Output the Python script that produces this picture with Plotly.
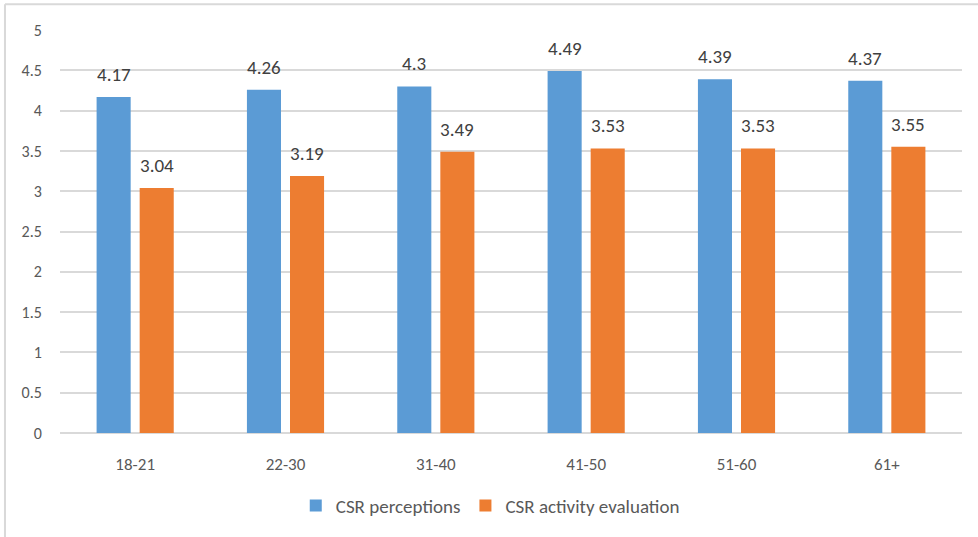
import plotly.graph_objects as go

age_groups = ["18-21", "22-30", "31-40", "41-50", "51-60", "61+"]
csr_perceptions = [4.17, 4.26, 4.30, 4.49, 4.39, 4.37]
csr_activity = [3.04, 3.19, 3.49, 3.53, 3.53, 3.55]
perception_labels = ["4.17", "4.26", "4.3", "4.49", "4.39", "4.37"]
activity_labels = ["3.04", "3.19", "3.49", "3.53", "3.53", "3.55"]
y_ticks = [0, 0.5, 1, 1.5, 2, 2.5, 3, 3.5, 4, 4.5, 5]

FONT = "Carlito, Calibri, Lato, sans-serif"
BLUE = "#5b9bd5"
ORANGE = "#ed7d31"
LABEL_COLOR = "#404040"

fig = go.Figure()
fig.add_trace(go.Bar(
    x=age_groups, y=csr_perceptions, name="CSR perceptions",
    marker=dict(color=BLUE, line=dict(width=0)),
))
fig.add_trace(go.Bar(
    x=age_groups, y=csr_activity, name="CSR activity evaluation",
    marker=dict(color=ORANGE, line=dict(width=0)),
))

# value labels above each bar (offset left/right to sit over the grouped bars)
for series, labels, dx in ((csr_perceptions, perception_labels, -21.5),
                           (csr_activity, activity_labels, 21.5)):
    for cat, val, lab in zip(age_groups, series, labels):
        fig.add_annotation(
            x=cat, y=val, text=lab, showarrow=False,
            xanchor="center", yanchor="bottom", xshift=dx, yshift=9,
            font=dict(size=19, color=LABEL_COLOR, family=FONT),
        )

fig.update_layout(
    width=978, height=537,
    margin=dict(l=60, r=16, t=30, b=104),
    paper_bgcolor="white", plot_bgcolor="white",
    barmode="group", bargap=0.427, bargroupgap=0.209,
    font=dict(family=FONT, color="#595959", size=16),
    showlegend=True,
    legend=dict(
        orientation="h", x=0.477, xanchor="center", y=-0.18, yanchor="middle",
        font=dict(size=19, color="#595959", family=FONT),
        itemwidth=30, tracegroupgap=0,
    ),
)
fig.update_xaxes(
    showgrid=False, showline=False, zeroline=False,
    ticks="outside", ticklen=16, tickcolor="rgba(0,0,0,0)",
    tickfont=dict(size=17, color="#595959"),
)
fig.update_yaxes(
    range=[0, 5], tickvals=y_ticks, ticktext=[f"{v:g}" for v in y_ticks],
    showgrid=True, gridcolor="#d9d9d9", gridwidth=1.5,
    zeroline=True, zerolinecolor="#d9d9d9", zerolinewidth=1.5,
    showline=False, ticks="outside", ticklen=14, tickcolor="rgba(0,0,0,0)",
    tickfont=dict(size=16, color="#595959"),
)

# chart frame: left and top edges
fig.add_shape(type="line", xref="paper", yref="paper",
              x0=-0.061, x1=-0.061, y0=1.064, y1=-0.27,
              line=dict(color="#d9d9d9", width=2))
fig.add_shape(type="line", xref="paper", yref="paper",
              x0=-0.061, x1=1.02, y0=1.064, y1=1.064,
              line=dict(color="#d9d9d9", width=2))

fig.write_html("out.html")
